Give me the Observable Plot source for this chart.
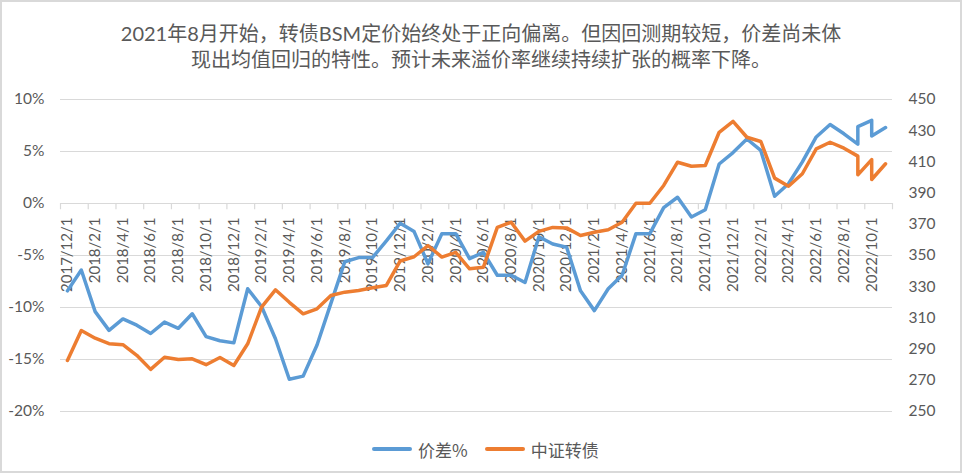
<!DOCTYPE html>
<html><head><meta charset="utf-8">
<script src="https://cdn.jsdelivr.net/npm/d3@7"></script>
<script src="https://cdn.jsdelivr.net/npm/@observablehq/plot@0.6"></script>
<style>
html,body{margin:0;padding:0;background:#fff;}
#wrap{position:relative;width:962px;height:473px;overflow:hidden;font-family:Lato,"Noto Sans CJK SC",sans-serif;background:#fff;}
#frame{position:absolute;left:0;top:0;width:962px;height:473px;box-sizing:border-box;border:2px solid #d9d9d9;pointer-events:none;}
#title{position:absolute;left:0;top:20px;width:962px;text-align:center;font-size:20px;line-height:26px;color:#595959;}
#chart{position:absolute;left:0;top:75px;}
#legend{position:absolute;left:372px;top:437px;height:24px;display:flex;align-items:center;font-size:17px;color:#595959;font-family:"Noto Sans CJK SC",Lato,sans-serif;}
.sw{display:inline-block;width:40px;height:4px;border-radius:2px;margin-right:6px;}
</style></head>
<body>
<div id="wrap">
  <div id="title"><div>2021年8月开始，转债BSM定价始终处于正向偏离。但因回测期较短，价差尚未体</div><div>现出均值回归的特性。预计未来溢价率继续持续扩张的概率下降。</div></div>
  <div id="chart"></div>
  <div id="legend"><span class="sw" style="background:#5B9BD5"></span><span>价差%</span><span style="width:17px"></span><span class="sw" style="background:#ED7D31"></span><span>中证转债</span></div>
  <div id="frame"></div>
</div>
<script>
const dates = ["2017/12/1","2018/1/1","2018/2/1","2018/3/1","2018/4/1","2018/5/1","2018/6/1","2018/7/1","2018/8/1","2018/9/1","2018/10/1","2018/11/1",
"2018/12/1","2019/1/1","2019/2/1","2019/3/1","2019/4/1","2019/5/1","2019/6/1","2019/7/1","2019/8/1","2019/9/1","2019/10/1","2019/11/1",
"2019/12/1","2020/1/1","2020/2/1","2020/3/1","2020/4/1","2020/5/1","2020/6/1","2020/7/1","2020/8/1","2020/9/1","2020/10/1","2020/11/1",
"2020/12/1","2021/1/1","2021/2/1","2021/3/1","2021/4/1","2021/5/1","2021/6/1","2021/7/1","2021/8/1","2021/9/1","2021/10/1","2021/11/1",
"2021/12/1","2022/1/1","2022/2/1","2022/3/1","2022/4/1","2022/5/1","2022/6/1","2022/7/1","2022/8/1","2022/9/1","2022/9/23","2022/10/14","2022/10/31","2022/11/4"];
const spread = [-8.4,-6.4,-10.4,-12.2,-11.1,-11.7,-12.5,-11.4,-12.0,-10.6,-12.8,-13.2,
-13.4,-8.2,-9.9,-13.0,-16.9,-16.6,-13.6,-9.6,-5.6,-5.2,-5.2,-3.6,
-1.9,-2.7,-5.8,-2.9,-2.9,-5.3,-4.7,-6.9,-6.9,-7.6,-3.2,-3.9,
-4.2,-8.4,-10.3,-8.2,-6.9,-2.9,-2.9,-0.4,0.6,-1.3,-0.6,3.8,
4.9,6.2,5.1,0.7,1.9,4.0,6.4,7.6,6.7,5.7,7.4,8.0,6.5,7.3];
const cbIndex = [282.7,301.9,297,293.5,292.8,286,277,284.8,283.3,283.8,280,284.6,
279.5,293.4,316.9,328,320,312.6,315.8,324.4,326.5,327.6,329.3,330.8,
346.5,349.2,356.4,349,352,341.5,342.5,368,371.3,359.2,365.5,368,
367.7,362.8,364.9,366.5,371.3,383.5,383.5,394.9,409.8,407.2,407.7,429,
436,425.8,423.1,399.6,394.4,402.4,418.4,422.6,418.8,413.7,401.7,411.5,398.7,408.8];
const leftTicks = [-20,-15,-10,-5,0,5,10];
const rightTicks = [250,270,290,310,330,350,370,390,410,430,450];
const xLabels = ["2017/12/1","2018/2/1","2018/4/1","2018/6/1","2018/8/1","2018/10/1","2018/12/1","2019/2/1","2019/4/1","2019/6/1","2019/8/1","2019/10/1",
"2019/12/1","2020/2/1","2020/4/1","2020/6/1","2020/8/1","2020/10/1","2020/12/1","2021/2/1","2021/4/1","2021/6/1","2021/8/1","2021/10/1",
"2021/12/1","2022/2/1","2022/4/1","2022/6/1","2022/8/1","2022/10/1"];

const monthPos = s => { const [y,m] = s.split("/").map(Number); return (y-2017)*12 + (m-12) + 0.5; };
const toLeft = d3.scaleLinear([250,450],[-20,10]);
const data = dates.map((d,i)=>({date:d, x: monthPos(d), spread: spread[i], cb: cbIndex[i]}));
const tickPos = xLabels.map(s => monthPos(s) - 0.5).concat([monthPos("2022/12/1") - 0.5]);

const chart = Plot.plot({
  width: 962, height: 360,
  marginTop: 24, marginBottom: 24, marginLeft: 60, marginRight: 70,
  x: {type: "linear", domain: [0, 60], axis: null},
  y: {domain: [-20, 10], axis: null},
  style: {fontFamily: "Lato, 'Noto Sans CJK SC', sans-serif", fontSize: "15px", color: "#595959", background: "transparent", overflow: "visible"},
  marks: [
    Plot.gridY({ticks: leftTicks, stroke: "#d9d9d9", strokeOpacity: 1, strokeWidth: 1.2}),
    Plot.axisY({ticks: leftTicks, anchor: "left", tickSize: 0, tickPadding: 16, tickFormat: d => d + "%", label: null, fontSize: 15.5, fill: "#595959"}),
    Plot.axisY({ticks: rightTicks.map(toLeft), anchor: "right", tickSize: 0, tickPadding: 16, tickFormat: d => Math.round(toLeft.invert(d)), label: null, fontSize: 15.5, fill: "#595959"}),
    Plot.ruleY([0], {stroke: "#d9d9d9", strokeWidth: 1.2}),
    Plot.ruleX(tickPos, {x: d => d, y1: 0, y2: -0.6, stroke: "#d9d9d9", strokeWidth: 1.2}),
    Plot.text(xLabels, {x: d => monthPos(d), y: 0, text: d => d, rotate: -90, textAnchor: "end", dy: 14, fill: "#595959", fontSize: 15}),
    Plot.line(data, {x: "x", y: "spread", stroke: "#5B9BD5", strokeWidth: 3.5, strokeLinejoin: "round"}),
    Plot.line(data, {x: "x", y: d => toLeft(d.cb), stroke: "#ED7D31", strokeWidth: 3.5, strokeLinejoin: "round"})
  ]
});
document.getElementById("chart").appendChild(chart);
</script>
</body></html>
